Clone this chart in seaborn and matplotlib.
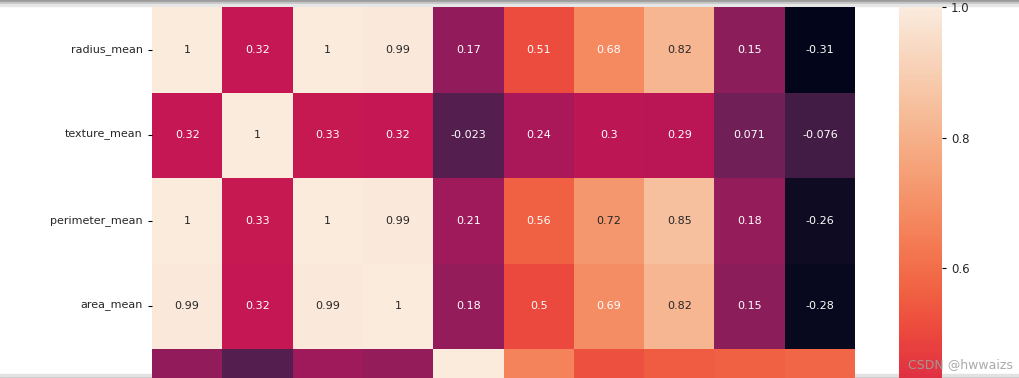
import numpy as np
import pandas as pd
import matplotlib
matplotlib.use("Agg")
import matplotlib.pyplot as plt
import seaborn as sns
from matplotlib.patches import Rectangle

# correlation values (mean features of the breast cancer data)
columns = ['radius_mean', 'texture_mean', 'perimeter_mean', 'area_mean', 'smoothness_mean',
           'compactness_mean', 'concavity_mean', 'concave points_mean', 'symmetry_mean',
           'fractal_dimension_mean']
rows = ['radius_mean', 'texture_mean', 'perimeter_mean', 'area_mean', 'smoothness_mean']

radius_row = [1, 0.32, 1, 0.99, 0.17, 0.51, 0.68, 0.82, 0.15, -0.31]
texture_row = [0.32, 1, 0.33, 0.32, -0.023, 0.24, 0.3, 0.29, 0.071, -0.076]
perimeter_row = [1, 0.33, 1, 0.99, 0.21, 0.56, 0.72, 0.85, 0.18, -0.26]
area_row = [0.99, 0.32, 0.99, 1, 0.18, 0.5, 0.69, 0.82, 0.15, -0.28]
smoothness_row = [0.17, -0.023, 0.21, 0.18, 1, 0.66, 0.52, 0.55, 0.56, 0.58]

corr = pd.DataFrame([radius_row, texture_row, perimeter_row, area_row, smoothness_row],
                    index=rows, columns=columns)

# annotation strings; the last row is cut off in the screenshot, so no labels there
labels = corr.map(lambda v: format(v, '.2g'))
labels.iloc[-1, :] = ''

W, H = 1019, 378
fig = plt.figure(figsize=(W / 100, H / 100), dpi=100)

# the screenshot is cut: only the top of a 10-row heatmap is visible
top = 7
cell_h = 85.5
full_h = cell_h * 10
ax = fig.add_axes([152 / W, (H - top - cell_h * len(rows)) / H, 703 / W, cell_h * len(rows) / H])
cax = fig.add_axes([899 / W, (H - top - full_h) / H, 43 / W, full_h / H])

sns.heatmap(corr, annot=labels.values, fmt='', ax=ax, cbar_ax=cax, vmin=-0.31, vmax=1,
            annot_kws={'fontsize': 8})

# only the fully visible rows keep a tick label
ax.set_yticks(np.arange(4) + 0.5)
ax.set_yticklabels(rows[:4])
ax.tick_params(axis='y', labelsize=8, length=3, labelcolor='#262626')
ax.set_xticks([])
cax.set_yticks([0.6, 0.8, 1.0])
cax.tick_params(labelsize=8.5, length=3, labelcolor='#262626')

# grey page edges of the screenshot
for y0, hh, c in [(H - 2, 2, '#9c9c9c'), (H - 4, 2, '#c4c4c4'), (H - 6, 2, '#e6e6e6'),
                  (0, 2, '#c8c8c8'), (2, 2, '#e2e2e2')]:
    fig.patches.append(Rectangle((0, y0 / H), 1, hh / H, transform=fig.transFigure,
                                 color=c, zorder=-1))

fig.text(908 / W, (H - 368) / H, 'CSDN @hwwaizs', ha='left', va='baseline', fontsize=9,
         color='#a0a0a0', alpha=0.9, zorder=5)

fig.savefig('out.png', dpi=100)
